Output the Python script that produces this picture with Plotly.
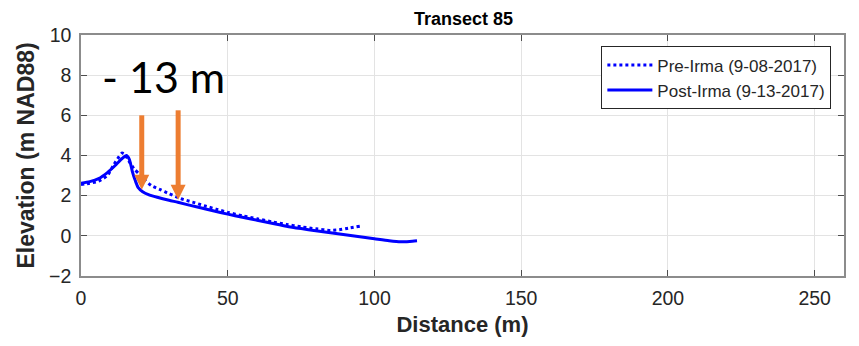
import plotly.graph_objects as go

# ---- data ----
pre_x = [0, 3, 6, 9, 11, 13, 14, 15, 16, 18, 20, 22, 24, 27, 30, 34, 38, 42, 46, 50,
         55, 60, 65, 70, 75, 80, 85, 88, 91, 95]
pre_y = [2.55, 2.62, 2.72, 3.0, 3.5, 3.95, 4.12, 4.05, 3.8, 3.35, 3.05, 2.75, 2.5, 2.3, 2.1, 1.85, 1.68, 1.5, 1.33, 1.17,
         1.0, 0.85, 0.7, 0.57, 0.45, 0.35, 0.27, 0.3, 0.38, 0.48]

post_x = [0, 3, 6, 9, 12, 14, 15.5, 16.5, 17.5, 18.5, 19.5, 21, 23, 26, 30, 33, 40, 45, 50,
          55, 60, 65, 70, 75, 80, 85, 90, 95, 100, 105, 109, 112, 114.5]
post_y = [2.62, 2.7, 2.85, 3.15, 3.55, 3.85, 4.0, 3.8, 3.2, 2.75, 2.4, 2.2, 2.05, 1.92, 1.77, 1.67, 1.42, 1.25, 1.08,
          0.93, 0.78, 0.63, 0.48, 0.36, 0.25, 0.15, 0.05, -0.05, -0.15, -0.25, -0.3, -0.28, -0.25]

arrow_x = [20.7, 33.1]
arrow_top = [6.0, 6.25]
arrow_tip = [2.3, 1.8]

x_ticks = [0, 50, 100, 150, 200, 250]
y_ticks = [-2, 0, 2, 4, 6, 8, 10]

title_text = "Transect 85"
x_title = "Distance (m)"
y_title = "Elevation (m NAD88)"
note_text = "- 13 m"
note_pos = (6.5, 7.95)

# ---- figure ----
BLUE = "#0000FF"
ORANGE = "#ED7D31"
FONT = "Liberation Sans, Arial, sans-serif"

fig = go.Figure()
fig.add_trace(go.Scatter(x=pre_x, y=pre_y, mode="lines", name="Pre-Irma (9-08-2017)",
                         line=dict(color=BLUE, width=3, dash="dot", shape="spline", smoothing=0.6)))
fig.add_trace(go.Scatter(x=post_x, y=post_y, mode="lines", name="Post-Irma (9-13-2017)",
                         line=dict(color=BLUE, width=3, shape="spline", smoothing=0.6)))

# arrow heads sized in pixels converted into data units
px_per_x = 763.3 / 260.0
px_per_y = 241.0 / 12.0
head_w = 7.5 / px_per_x   # half width
head_h = 15 / px_per_y
for ax_, top, tip in zip(arrow_x, arrow_top, arrow_tip):
    fig.add_shape(type="line", x0=ax_, x1=ax_, y0=top, y1=tip + head_h * 0.9,
                  line=dict(color=ORANGE, width=5), layer="above")
    fig.add_shape(type="path",
                  path=f"M {ax_ - head_w},{tip + head_h} L {ax_ + head_w},{tip + head_h} L {ax_},{tip} Z",
                  fillcolor=ORANGE, line=dict(color=ORANGE, width=0), layer="above")

fig.add_annotation(x=note_pos[0], y=note_pos[1], text=note_text, showarrow=False,
                   xanchor="left", yanchor="middle",
                   font=dict(family="Lato, Open Sans, sans-serif", size=43, color="black"))

axis_common = dict(showgrid=True, gridcolor="#E3E3E3", gridwidth=1, zeroline=False,
                   showline=True, linecolor="#8C8C8C", linewidth=1.5, mirror="ticks",
                   ticks="inside", ticklen=6, tickcolor="#4D4D4D", ticklabelstandoff=4,
                   tickfont=dict(family=FONT, size=19.5, color="#262626"))

fig.update_layout(
    width=859, height=346,
    margin=dict(l=81, r=15, t=35, b=70),
    paper_bgcolor="white", plot_bgcolor="white",
    title=dict(text=f"<b>{title_text}</b>", x=0.5397, xanchor="center", y=0.945, yanchor="middle",
               font=dict(family=FONT, size=18, color="black")),
    xaxis=dict(range=[0, 260], tickvals=x_ticks,
               title=dict(text=f"<b>{x_title}</b>", standoff=8,
                          font=dict(family=FONT, size=22, color="#262626")),
               **axis_common),
    yaxis=dict(range=[-2, 10], tickvals=y_ticks,
               title=dict(text=f"<b>{y_title}</b>", standoff=8,
                          font=dict(family=FONT, size=23, color="#262626")),
               **axis_common),
    legend=dict(x=0.682, y=0.953, xanchor="left", yanchor="top",
                bgcolor="white", bordercolor="#262626", borderwidth=1,
                font=dict(family=FONT, size=17, color="#262626"),
                tracegroupgap=0, itemwidth=45),
    showlegend=True,
)

fig.write_html("out.html")
